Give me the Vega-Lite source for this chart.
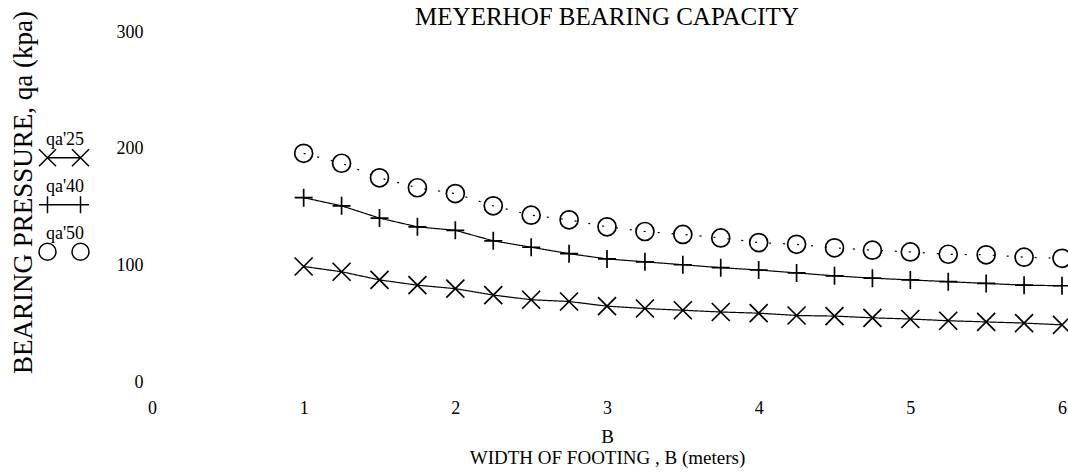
{
  "$schema": "https://vega.github.io/schema/vega-lite/v6.json",
  "width": 910,
  "height": 350,
  "autosize": {"type": "none"},
  "padding": {"left": 152, "top": 32, "right": 6, "bottom": 93},
  "background": "white",
  "title": {"text": "MEYERHOF BEARING CAPACITY", "fontSize": 25, "font": "Liberation Serif", "fontWeight": "normal", "anchor": "middle", "offset": 6, "dy": 25, "color": "black"},
  "config": {
    "view": {"stroke": null},
    "font": "Liberation Serif",
    "axis": {"grid": false, "domain": false, "ticks": false, "labelFont": "Liberation Serif", "labelColor": "black", "labelFontSize": 18, "titleFont": "Liberation Serif", "titleFontWeight": "normal", "titleColor": "black", "labelFlush": false}
  },
  "data": {"values": [
    {"B": 1, "q": 99, "series": "qa'25"},
    {"B": 1.25, "q": 94.5, "series": "qa'25"},
    {"B": 1.5, "q": 87.5, "series": "qa'25"},
    {"B": 1.75, "q": 83, "series": "qa'25"},
    {"B": 2, "q": 80, "series": "qa'25"},
    {"B": 2.25, "q": 74.5, "series": "qa'25"},
    {"B": 2.5, "q": 70.5, "series": "qa'25"},
    {"B": 2.75, "q": 69, "series": "qa'25"},
    {"B": 3, "q": 65, "series": "qa'25"},
    {"B": 3.25, "q": 63, "series": "qa'25"},
    {"B": 3.5, "q": 61.5, "series": "qa'25"},
    {"B": 3.75, "q": 60, "series": "qa'25"},
    {"B": 4, "q": 59, "series": "qa'25"},
    {"B": 4.25, "q": 57, "series": "qa'25"},
    {"B": 4.5, "q": 56.5, "series": "qa'25"},
    {"B": 4.75, "q": 55, "series": "qa'25"},
    {"B": 5, "q": 54, "series": "qa'25"},
    {"B": 5.25, "q": 52.5, "series": "qa'25"},
    {"B": 5.5, "q": 51.5, "series": "qa'25"},
    {"B": 5.75, "q": 50.5, "series": "qa'25"},
    {"B": 6, "q": 49, "series": "qa'25"},
    {"B": 1, "q": 158, "series": "qa'40"},
    {"B": 1.25, "q": 151, "series": "qa'40"},
    {"B": 1.5, "q": 140.5, "series": "qa'40"},
    {"B": 1.75, "q": 133, "series": "qa'40"},
    {"B": 2, "q": 130, "series": "qa'40"},
    {"B": 2.25, "q": 121, "series": "qa'40"},
    {"B": 2.5, "q": 115.5, "series": "qa'40"},
    {"B": 2.75, "q": 110, "series": "qa'40"},
    {"B": 3, "q": 105.5, "series": "qa'40"},
    {"B": 3.25, "q": 103, "series": "qa'40"},
    {"B": 3.5, "q": 100.5, "series": "qa'40"},
    {"B": 3.75, "q": 98, "series": "qa'40"},
    {"B": 4, "q": 96, "series": "qa'40"},
    {"B": 4.25, "q": 93.5, "series": "qa'40"},
    {"B": 4.5, "q": 91, "series": "qa'40"},
    {"B": 4.75, "q": 89, "series": "qa'40"},
    {"B": 5, "q": 87.5, "series": "qa'40"},
    {"B": 5.25, "q": 86, "series": "qa'40"},
    {"B": 5.5, "q": 84.5, "series": "qa'40"},
    {"B": 5.75, "q": 83, "series": "qa'40"},
    {"B": 6, "q": 82.5, "series": "qa'40"},
    {"B": 1, "q": 196, "series": "qa'50"},
    {"B": 1.25, "q": 187.5, "series": "qa'50"},
    {"B": 1.5, "q": 175, "series": "qa'50"},
    {"B": 1.75, "q": 166.5, "series": "qa'50"},
    {"B": 2, "q": 161.5, "series": "qa'50"},
    {"B": 2.25, "q": 151, "series": "qa'50"},
    {"B": 2.5, "q": 143, "series": "qa'50"},
    {"B": 2.75, "q": 139, "series": "qa'50"},
    {"B": 3, "q": 133, "series": "qa'50"},
    {"B": 3.25, "q": 129, "series": "qa'50"},
    {"B": 3.5, "q": 126.5, "series": "qa'50"},
    {"B": 3.75, "q": 123.5, "series": "qa'50"},
    {"B": 4, "q": 119.5, "series": "qa'50"},
    {"B": 4.25, "q": 118, "series": "qa'50"},
    {"B": 4.5, "q": 115, "series": "qa'50"},
    {"B": 4.75, "q": 113, "series": "qa'50"},
    {"B": 5, "q": 111.5, "series": "qa'50"},
    {"B": 5.25, "q": 109.5, "series": "qa'50"},
    {"B": 5.5, "q": 109, "series": "qa'50"},
    {"B": 5.75, "q": 107, "series": "qa'50"},
    {"B": 6, "q": 106, "series": "qa'50"}
  ]},
  "encoding": {
    "x": {"field": "B", "type": "quantitative", "scale": {"domain": [0, 6], "nice": false},
      "axis": {"values": [0, 1, 2, 3, 4, 5, 6], "title": ["B", "WIDTH OF FOOTING , B (meters)"], "labelPadding": 17, "titlePadding": 10, "titleFontSize": 19, "titleLineHeight": 21}},
    "y": {"field": "q", "type": "quantitative", "scale": {"domain": [0, 300], "nice": false},
      "axis": {"values": [0, 100, 200, 300], "title": "BEARING PRESSURE, qa (kpa)", "labelPadding": 9, "titleFontSize": 27, "titleX": -129, "titleY": 160, "titleAlign": "center", "titleBaseline": "middle", "titleAngle": -90}}
  },
  "layer": [
    {
      "mark": {"type": "line", "color": "black", "strokeWidth": 1.2},
      "encoding": {
        "detail": {"field": "series", "type": "nominal"},
        "strokeDash": {"field": "series", "type": "nominal", "scale": {"domain": ["qa'25", "qa'40", "qa'50"], "range": [[1, 0], [1, 0], [2, 12]]}, "legend": null}
      }
    },
    {
      "mark": {"type": "point", "filled": false, "color": "black", "strokeWidth": 1.7, "size": 324, "opacity": 1},
      "encoding": {
        "shape": {"field": "series", "type": "nominal", "scale": {"domain": ["qa'25", "qa'40", "qa'50"], "range": ["M-1,-1L1,1M-1,1L1,-1", "M-1,0L1,0M0,-1L0,1", "M1,0A1,1,0,1,1,-1,0A1,1,0,1,1,1,0"]}, "legend": null}
      }
    },
    {
      "mark": {"type": "point", "filled": false, "color": "black", "strokeWidth": 1.5, "size": 2500, "opacity": 0},
      "encoding": {
        "shape": {"field": "series", "type": "nominal", "scale": {"domain": ["qa'25", "qa'40", "qa'50"], "range": [
          "M-1,0.01L-0.32,0.69M-1,0.69L-0.32,0.01M0.32,0.01L1,0.69M0.32,0.69L1,0.01M-0.66,0.35L0.66,0.35",
          "M-1,0.35L1,0.35M-0.66,0.01L-0.66,0.69M0.66,0.01L0.66,0.69",
          "M-0.32,0.35A0.34,0.34,0,1,1,-1,0.35A0.34,0.34,0,1,1,-0.32,0.35M1,0.35A0.34,0.34,0,1,1,0.32,0.35A0.34,0.34,0,1,1,1,0.35"]},
          "legend": {"title": null, "orient": "none", "legendX": -114, "legendY": 91, "padding": 0, "symbolOpacity": 1, "symbolSize": 2500, "symbolStrokeWidth": 1.5, "symbolStrokeColor": "black", "labelFont": "Liberation Serif", "labelFontSize": 18, "labelColor": "black", "labelAlign": "center", "labelBaseline": "bottom", "labelOffset": -25, "rowPadding": -5}}
      }
    }
  ],
  "resolve": {"scale": {"shape": "independent"}, "legend": {"shape": "independent"}}
}
